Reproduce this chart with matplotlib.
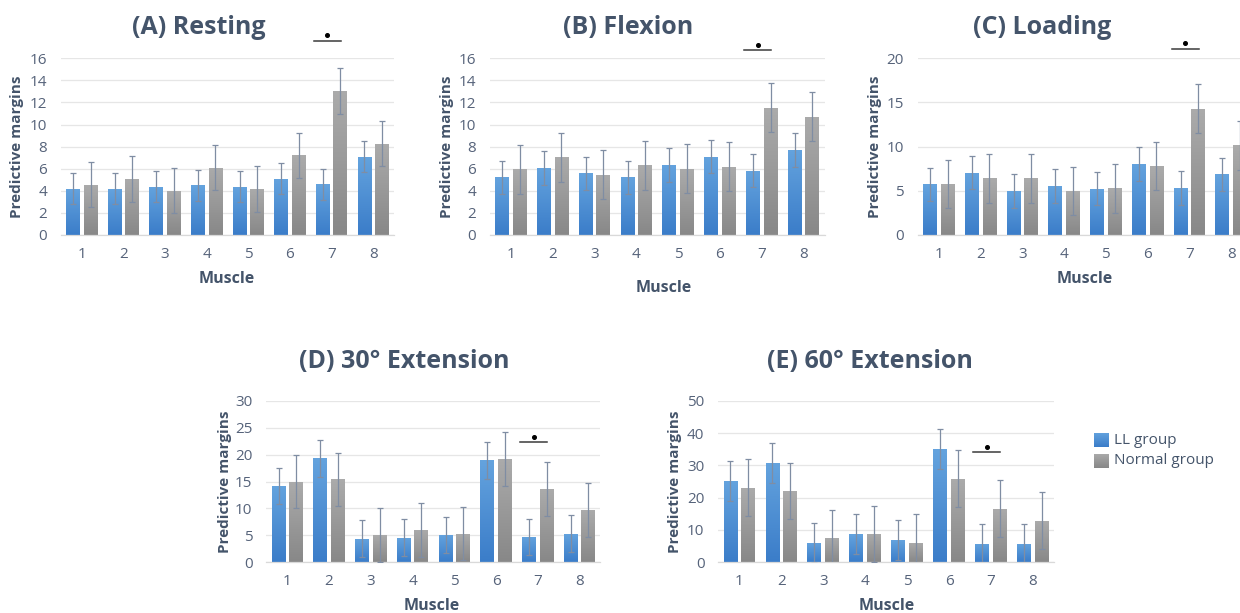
import numpy as np
import matplotlib
matplotlib.use("Agg")
import matplotlib.pyplot as plt
from matplotlib.colors import LinearSegmentedColormap
from matplotlib.transforms import ScaledTranslation

plt.rcParams['font.family'] = ['Open Sans', 'DejaVu Sans']

# ---------------- data ----------------
muscles = ['1', '2', '3', '4', '5', '6', '7', '8']
series_names = ['LL group', 'Normal group']

titles = ['(A) Resting', '(B) Flexion', '(C) Loading', '(D) 30° Extension', '(E) 60° Extension']

ll_resting = [4.17, 4.17, 4.38, 4.50, 4.35, 5.10, 4.60, 7.07]
nm_resting = [4.56, 5.08, 4.02, 6.10, 4.17, 7.22, 13.05, 8.28]
ll_resting_err = [1.4] * 8
nm_resting_err = [2.05] * 8

ll_flexion = [5.23, 6.07, 5.59, 5.23, 6.34, 7.10, 5.83, 7.70]
nm_flexion = [5.95, 7.04, 5.47, 6.31, 5.98, 6.19, 11.54, 10.72]
ll_flexion_err = [1.5] * 8
nm_flexion_err = [2.22] * 8

ll_loading = [5.74, 7.06, 4.98, 5.55, 5.25, 8.04, 5.32, 6.87]
nm_loading = [5.77, 6.42, 6.42, 4.98, 5.28, 7.81, 14.30, 10.15]
ll_loading_err = [1.88] * 8
nm_loading_err = [2.75] * 8

ll_ext30 = [14.16, 19.30, 4.39, 4.58, 5.07, 18.90, 4.70, 5.32]
nm_ext30 = [14.96, 15.40, 5.07, 6.00, 5.32, 19.20, 13.60, 9.70]
ll_ext30_err = [3.38] * 8
nm_ext30_err = [4.95] * 8

ll_ext60 = [25.15, 30.70, 5.98, 8.66, 6.80, 34.95, 5.57, 5.77]
nm_ext60 = [23.10, 22.06, 7.50, 8.76, 6.08, 25.90, 16.60, 12.80]
ll_ext60_err = [6.2] * 8
nm_ext60_err = [8.8] * 8

y_max = [16, 16, 20, 30, 50]
y_step = [2, 2, 5, 5, 10]
sig_muscle = ['7', '7', '7', '7', '7']
sig_height = [17.57, 16.75, 21.09, 22.33, 34.1]

# ---------------- layout (pixels) ----------------
W, H = 1240, 613
fig = plt.figure(figsize=(W / 100, H / 100), dpi=100)

# (left, right, top, bottom) plot area in pixels
boxes = [(61, 394, 58.3, 235), (490, 824.5, 58.3, 235), (918, 1252, 58.3, 235),
         (266.4, 600.4, 400.7, 562.3), (718.3, 1054, 400.7, 562.3)]
title_pos = [(199, 27), (628, 27), (1042, 27), (404, 362), (870, 362)]
ylabel_x = [17, 447, 875, 225, 675]
xlabel_pos = [(227, 279), (664, 288), (1085, 279), (432, 606), (887, 606)]

TITLE_C = '#44546A'
TICK_C = '#56637A'
BLUE_TOP, BLUE_BOT = '#64A3DE', '#3B7DC9'
GREY_TOP, GREY_BOT = '#ABABAB', '#888888'
ERR_C = '#7F8DA3'

panels = [
    (ll_resting, nm_resting, ll_resting_err, nm_resting_err),
    (ll_flexion, nm_flexion, ll_flexion_err, nm_flexion_err),
    (ll_loading, nm_loading, ll_loading_err, nm_loading_err),
    (ll_ext30, nm_ext30, ll_ext30_err, nm_ext30_err),
    (ll_ext60, nm_ext60, ll_ext60_err, nm_ext60_err),
]


def gradient_fill(ax, bars, top, bot):
    cmap = LinearSegmentedColormap.from_list('g', [bot, top])
    grad = np.linspace(0, 1, 64).reshape(-1, 1)
    for b in bars:
        x0, y0 = b.get_xy()
        w, h = b.get_width(), b.get_height()
        im = ax.imshow(grad, extent=[x0, x0 + w, y0, y0 + h], origin='lower',
                       aspect='auto', cmap=cmap, zorder=2, interpolation='bilinear')
        im.set_clip_path(b)
        b.set_facecolor('none')


bw = 0.33
off = 0.21
x = np.arange(len(muscles))

for i, (ll, nm, lle, nme) in enumerate(panels):
    l, r, t, b = boxes[i]
    ax = fig.add_axes([l / W, 1 - b / H, (r - l) / W, (b - t) / H])
    b1 = ax.bar(x - off, ll, bw, color=BLUE_TOP, zorder=2, label=series_names[0])
    b2 = ax.bar(x + off, nm, bw, color=GREY_TOP, zorder=2, label=series_names[1])
    gradient_fill(ax, b1, BLUE_TOP, BLUE_BOT)
    gradient_fill(ax, b2, GREY_TOP, GREY_BOT)
    ax.errorbar(x - off, ll, yerr=lle, fmt='none', ecolor=ERR_C, elinewidth=0.9,
                capsize=2, capthick=0.9, zorder=3)
    ax.errorbar(x + off, nm, yerr=nme, fmt='none', ecolor=ERR_C, elinewidth=0.9,
                capsize=2, capthick=0.9, zorder=3)
    ax.set_xlim(-0.5, len(muscles) - 0.5)
    ax.set_ylim(0, y_max[i])
    ax.set_yticks(np.arange(0, y_max[i] + 0.01, y_step[i]))
    ax.set_xticks(x)
    ax.set_xticklabels(muscles)
    ax.grid(axis='y', color='#E6E6E6', lw=0.9, zorder=0)
    ax.set_axisbelow(True)
    for s in ['top', 'right', 'left']:
        ax.spines[s].set_visible(False)
    ax.spines['bottom'].set_color('#D9D9D9')
    ax.spines['bottom'].set_linewidth(0.9)
    ax.tick_params(axis='both', length=0, labelsize=11, labelcolor=TICK_C)
    ax.tick_params(axis='y', pad=10)
    ax.tick_params(axis='x', pad=8.5)

    # significance marker
    k = muscles.index(sig_muscle[i])
    ax.plot([k - 0.42, k + 0.22], [sig_height[i]] * 2, color='#3A3A3A', lw=1.1,
            clip_on=False, zorder=5)
    tr = ax.transData + ScaledTranslation(0, 0.055, fig.dpi_scale_trans)
    ax.plot([k - 0.1], [sig_height[i]], marker='o', ms=2.6, color='black',
            transform=tr, clip_on=False, zorder=5)

    tx, ty = title_pos[i]
    fig.text(tx / W, 1 - ty / H, titles[i], ha='center', va='center',
             fontsize=18, fontweight='bold', color=TITLE_C)
    fig.text(ylabel_x[i] / W, 1 - ((t + b) / 2) / H, 'Predictive margins',
             rotation=90, ha='center', va='center', fontsize=11,
             fontweight='bold', color=TITLE_C)
    mx, my = xlabel_pos[i]
    fig.text(mx / W, 1 - my / H, 'Muscle', ha='center', va='center',
             fontsize=11.5, fontweight='bold', color=TITLE_C)

# legend
leg_items = [(series_names[0], BLUE_TOP, BLUE_BOT, 440), (series_names[1], GREY_TOP, GREY_BOT, 461)]
for name, ctop, cbot, yc in leg_items:
    lax = fig.add_axes([1094 / W, 1 - (yc + 7.5) / H, 15 / W, 15 / H])
    cm = LinearSegmentedColormap.from_list('g', [cbot, ctop])
    lax.imshow(np.linspace(0, 1, 32).reshape(-1, 1), origin='lower', aspect='auto', cmap=cm)
    lax.axis('off')
    fig.text(1114 / W, 1 - yc / H, name, ha='left', va='center', fontsize=11,
             color=TITLE_C)

fig.savefig('out.png', dpi=100)
